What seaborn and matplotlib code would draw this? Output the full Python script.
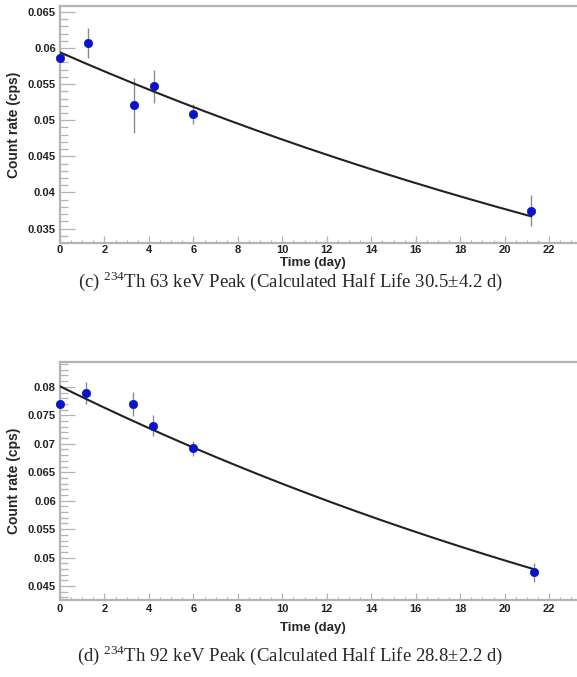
import numpy as np
import pandas as pd
import matplotlib
matplotlib.use("Agg")
import matplotlib.pyplot as plt
import seaborn as sns
from matplotlib.ticker import MultipleLocator, FormatStrFormatter

sns.set_style("ticks")
plt.rcParams['font.family'] = ['Liberation Sans', 'DejaVu Sans']
plt.rcParams['mathtext.fontset'] = 'custom'
plt.rcParams['mathtext.rm'] = 'Liberation Serif'

# measurement times (day)
time_c = [0.0, 1.24, 3.31, 4.21, 5.98, 21.2]
time_d = [0.0, 1.17, 3.30, 4.20, 5.96, 21.3]

# 63 keV peak
rate_c = [0.0586, 0.0607, 0.0521, 0.0547, 0.0509, 0.0375]
err_c = [0.0004, 0.0021, 0.0038, 0.0023, 0.0014, 0.0022]
fit_c = {'A0': 0.0594, 'half_life': 30.5}

# 92 keV peak
rate_d = [0.0770, 0.0789, 0.0770, 0.0732, 0.0692, 0.0474]
err_d = [0.0004, 0.0019, 0.0021, 0.0019, 0.0013, 0.0017]
fit_d = {'A0': 0.0801, 'half_life': 28.8}

captions = [r"(c) $^{234}$Th 63 keV Peak (Calculated Half Life 30.5$\pm$4.2 d)",
            r"(d) $^{234}$Th 92 keV Peak (Calculated Half Life 28.8$\pm$2.2 d)"]

axis_gray = '#b4b4b4'


def draw_panel(ax, t, rate, err, fit, ylim, xlabel_y, xpad):
    df = pd.DataFrame({'t': t, 'rate': rate})
    tt = np.linspace(0, t[-1], 200)
    curve = pd.DataFrame({'t': tt, 'rate': fit['A0'] * 2 ** (-tt / fit['half_life'])})
    ax.errorbar(t, rate, yerr=err, fmt='none', ecolor='#8a8a8a', elinewidth=1.0,
                capsize=0, zorder=2)
    sns.lineplot(data=curve, x='t', y='rate', ax=ax, color='#222222', linewidth=1.5, zorder=3)
    sns.scatterplot(data=df, x='t', y='rate', ax=ax, color='#0a14c8', s=36,
                    edgecolor='#0a14c8', linewidth=0.5, zorder=4, clip_on=False)
    ax.set_xlim(0, 23.25)
    ax.set_ylim(*ylim)
    ax.xaxis.set_major_locator(MultipleLocator(2))
    ax.xaxis.set_minor_locator(MultipleLocator(0.5))
    ax.yaxis.set_major_locator(MultipleLocator(0.005))
    ax.yaxis.set_minor_locator(MultipleLocator(0.001))
    ax.yaxis.set_major_formatter(FormatStrFormatter('%g'))
    ax.tick_params(axis='y', which='major', direction='in', length=11, width=0.9,
                   color=axis_gray, labelsize=8, pad=3)
    ax.tick_params(axis='y', which='minor', direction='in', length=5.5, width=0.9,
                   color=axis_gray)
    ax.tick_params(axis='x', which='major', direction='in', length=5, width=0.9,
                   color=axis_gray, labelsize=8, pad=xpad)
    ax.tick_params(axis='x', which='minor', direction='in', length=2.5, width=0.9,
                   color=axis_gray)
    for lab in ax.get_xticklabels() + ax.get_yticklabels():
        lab.set_fontweight('bold')
        lab.set_color('#222222')
    for side in ['left', 'bottom', 'top']:
        ax.spines[side].set_color(axis_gray)
        ax.spines[side].set_linewidth(1.6)
    ax.spines['right'].set_visible(False)
    ax.set_xlabel("Time (day)", fontsize=9.5, fontweight='bold', va='center')
    ax.set_ylabel("Count rate (cps)", fontsize=10, fontweight='bold', labelpad=5)
    ax.xaxis.set_label_coords(0.49 * 0.896 + 0.104, 1 - xlabel_y / 677,
                              transform=ax.figure.transFigure)


fig = plt.figure(figsize=(5.77, 6.77), dpi=100)
ax1 = fig.add_axes([0.104, 0.641, 0.896, 0.350])
ax2 = fig.add_axes([0.104, 0.1137, 0.896, 0.351])

draw_panel(ax1, time_c, rate_c, err_c, fit_c, (0.0330, 0.0658), 263, 1.5)
draw_panel(ax2, time_d, rate_d, err_d, fit_d, (0.04254, 0.0843), 628, 3)

fig.text(0.503, 1 - 281 / 677, captions[0], ha='center', va='center', fontsize=13.5,
         family=['Liberation Serif', 'DejaVu Serif'])
fig.text(0.503, 1 - 655 / 677, captions[1], ha='center', va='center', fontsize=13.5,
         family=['Liberation Serif', 'DejaVu Serif'])

fig.savefig("out.png", dpi=100)
plt.close(fig)
